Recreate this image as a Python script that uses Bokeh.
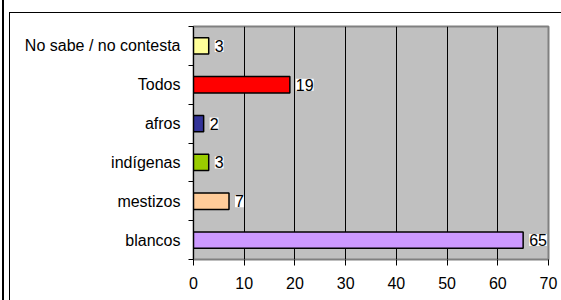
from bokeh.plotting import figure
from bokeh.models import FixedTicker, ColumnDataSource, LabelSet, Range1d
from bokeh.core.properties import value
from bokeh.embed import file_html
from bokeh.resources import INLINE

categories = ["blancos", "mestizos", "indígenas", "afros", "Todos", "No sabe / no contesta"]
values = [65, 7, 3, 2, 19, 3]
colors = ["#CC99FF", "#FFCC99", "#99CC00", "#333399", "#FF0000", "#FFFF99"]
x_ticks = [0, 10, 20, 30, 40, 50, 60, 70]

positions = [i + 0.5 for i in range(len(categories))]
src = ColumnDataSource(dict(y=positions, v=values, c=colors, lbl=[str(v) for v in values]))

FONT = "Liberation Sans"

frame_css = {
    "background-color": "white",
    "background-image": "linear-gradient(black, black), linear-gradient(black, black), linear-gradient(black, black)",
    "background-size": "2px 100%, 1px 100%, 100% 1px",
    "background-position": "2px 0px, 9px 12px, 9px 12px",
    "background-repeat": "no-repeat",
}

p = figure(width=561, height=300, x_range=Range1d(0, 70), y_range=Range1d(0, len(categories)),
           output_backend="svg", toolbar_location=None,
           min_border_left=193, min_border_right=13, min_border_top=26, min_border_bottom=41,
           styles=frame_css)

p.background_fill_color = "#C0C0C0"
p.border_fill_color = "white"
p.border_fill_alpha = 0
p.outline_line_color = "#808080"
p.outline_line_width = 2

p.hbar(y="y", left=0, right="v", height=0.42, fill_color="c", line_color="black", line_width=1.5, source=src)

labels = LabelSet(x="v", y="y", text="lbl", source=src, x_offset=6, y_offset=0,
                  text_baseline="middle", text_align="left", text_font_size="16px",
                  text_font=value(FONT), text_color="black", background_fill_color="white")
p.add_layout(labels)

# x axis
p.xaxis.ticker = FixedTicker(ticks=x_ticks)
p.xaxis.axis_line_color = "#808080"
p.xaxis.major_tick_line_color = "black"
p.xaxis.major_tick_out = 6
p.xaxis.major_tick_in = 0
p.xaxis.minor_tick_line_color = None
p.xaxis.major_label_text_font = FONT
p.xaxis.major_label_text_font_size = "16px"
p.xaxis.major_label_text_color = "black"
p.xaxis.major_label_standoff = 11

# y axis
p.yaxis.ticker = FixedTicker(ticks=positions, minor_ticks=list(range(len(categories) + 1)))
p.yaxis.major_label_overrides = {pos: c for pos, c in zip(positions, categories)}
p.yaxis.axis_line_color = "black"
p.yaxis.major_tick_line_color = None
p.yaxis.minor_tick_line_color = "black"
p.yaxis.minor_tick_out = 5
p.yaxis.minor_tick_in = 0
p.yaxis.major_label_text_font = FONT
p.yaxis.major_label_text_font_size = "16px"
p.yaxis.major_label_text_color = "black"
p.yaxis.major_label_standoff = 7

p.xgrid.grid_line_color = "black"
p.xgrid.grid_line_alpha = 1
p.ygrid.grid_line_color = None

open("out.html", "w").write(file_html(p, INLINE))
